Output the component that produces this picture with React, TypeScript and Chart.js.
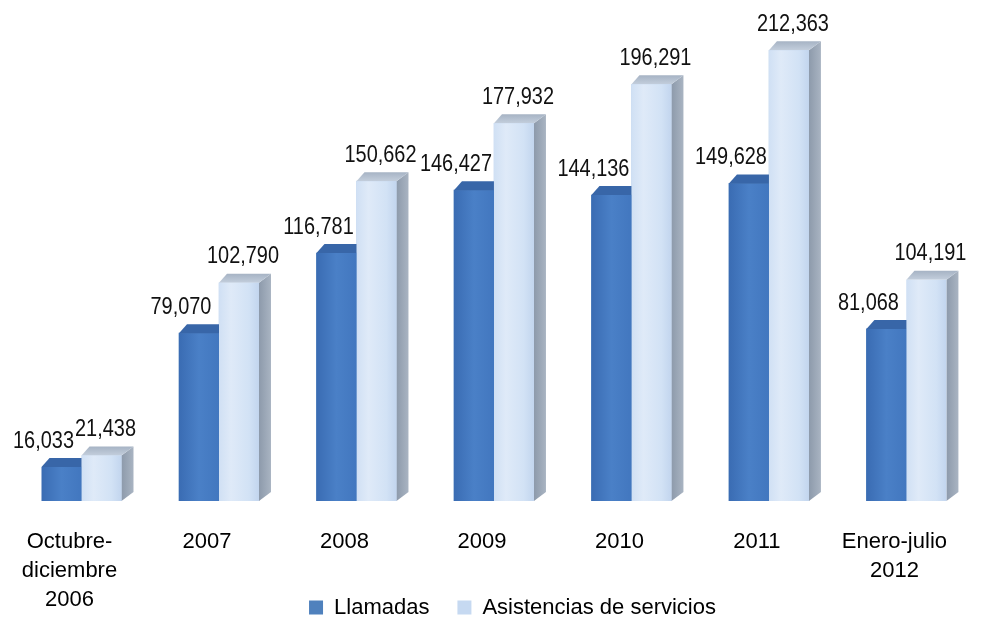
import React, { useEffect, useRef } from 'react';
import { Chart, registerables } from 'chart.js';

Chart.register(...registerables);

const categories: string[][] = [
  ['Octubre-', 'diciembre', '2006'],
  ['2007'],
  ['2008'],
  ['2009'],
  ['2010'],
  ['2011'],
  ['Enero-julio', '2012'],
];
const llamadas = [16033, 79070, 116781, 146427, 144136, 149628, 81068];
const asistencias = [21438, 102790, 150662, 177932, 196291, 212363, 104191];
const seriesNames = ['Llamadas', 'Asistencias de servicios'];
const legendColors = ['#4f81bd', '#c6d9f1'];

function pickFont(): { family: string; size: number; narrow: boolean } {
  const c = document.createElement('canvas').getContext('2d');
  const sample = 'Asistencias de servicios 0123456789';
  if (c) {
    c.font = '26px monospace';
    const w1 = c.measureText(sample).width;
    c.font = '26px "Liberation Sans Narrow", monospace';
    const w2 = c.measureText(sample).width;
    if (Math.abs(w1 - w2) > 1) return { family: '"Liberation Sans Narrow", "Arial Narrow", sans-serif', size: 26, narrow: true };
    c.font = '26px "Arial Narrow", monospace';
    const w3 = c.measureText(sample).width;
    if (Math.abs(w1 - w3) > 1) return { family: '"Arial Narrow", sans-serif', size: 26, narrow: true };
  }
  return { family: '"Liberation Sans", Arial, sans-serif', size: 22, narrow: false };
}

function poly(ctx: CanvasRenderingContext2D, pts: number[][], fill: string | CanvasGradient) {
  ctx.beginPath();
  ctx.moveTo(pts[0][0], pts[0][1]);
  for (let i = 1; i < pts.length; i++) ctx.lineTo(pts[i][0], pts[i][1]);
  ctx.closePath();
  ctx.fillStyle = fill;
  ctx.fill();
}

const LEGEND_TOP = 568.5;

const legendMover = {
  id: 'legendMover',
  afterLayout(chart: any) {
    const lg = chart.legend;
    if (!lg) return;
    const h = lg.bottom - lg.top;
    lg.top = LEGEND_TOP;
    lg.bottom = LEGEND_TOP + h;
  },
};

const makeBars3d = (font: { family: string; size: number; narrow: boolean }) => ({
  id: 'bars3d',
  afterDatasetsDraw(chart: any) {
    const ctx: CanvasRenderingContext2D = chart.ctx;
    const m0 = chart.getDatasetMeta(0);
    const m1 = chart.getDatasetMeta(1);
    const dxl = 8, dxr = 12, dy = 9;
    ctx.save();
    m0.data.forEach((d: any, i: number) => {
      const l: any = m1.data[i];
      const dp = d.getProps(['x', 'y', 'base', 'width'], true);
      const lp = l.getProps(['x', 'y', 'base', 'width'], true);
      const x0 = dp.x - dp.width / 2;
      const x1 = dp.x + dp.width / 2;
      const lx1 = lp.x - lp.width / 2;
      const x2 = lp.x + lp.width / 2;
      const base = dp.base;

      // light side face
      const sg = ctx.createLinearGradient(x2, 0, x2 + dxr, 0);
      sg.addColorStop(0, '#8d9aab');
      sg.addColorStop(1, '#a9b4c2');
      poly(ctx, [[x2, lp.y], [x2 + dxr, lp.y - dy], [x2 + dxr, base - dy], [x2, base]], sg);
      // light top face
      const tg = ctx.createLinearGradient(0, lp.y - dy, 0, lp.y);
      tg.addColorStop(0, '#a6b3c4');
      tg.addColorStop(1, '#c3cedc');
      poly(ctx, [[lx1, lp.y], [x2, lp.y], [x2 + dxr, lp.y - dy], [lx1 + dxl, lp.y - dy]], tg);
      // light front
      const lg = ctx.createLinearGradient(lx1, 0, x2, 0);
      lg.addColorStop(0, '#d0e0f4');
      lg.addColorStop(0.3, '#dfeaf8');
      lg.addColorStop(0.75, '#d2e2f5');
      lg.addColorStop(1, '#c2d5ee');
      poly(ctx, [[lx1, lp.y], [x2, lp.y], [x2, base], [lx1, base]], lg);
      // dark front
      const dg = ctx.createLinearGradient(x0, 0, x1, 0);
      dg.addColorStop(0, '#3a6cb3');
      dg.addColorStop(0.5, '#4a80c7');
      dg.addColorStop(1, '#4277bf');
      poly(ctx, [[x0, dp.y], [x1, dp.y], [x1, base], [x0, base]], dg);
      // dark top face (hidden to the right behind the light bar)
      poly(ctx, [[x0, dp.y], [x1, dp.y], [x1, dp.y - dy], [x0 + dxl, dp.y - dy]], '#3866a8');

      // value labels (condensed look, like Arial Narrow)
      const sx = font.narrow ? 1 : 0.83;
      const size = font.narrow ? 24 : 24;
      ctx.fillStyle = '#111111';
      ctx.font = `${size}px ${font.family}`;
      ctx.textAlign = 'center';
      ctx.textBaseline = 'middle';
      const put = (txt: string, x: number, y: number) => {
        ctx.save();
        ctx.translate(x, y);
        ctx.scale(sx, 1);
        ctx.fillText(txt, 0, 0);
        ctx.restore();
      };
      put(llamadas[i].toLocaleString('en-US'), dp.x - 18, dp.y - 26);
      put(asistencias[i].toLocaleString('en-US'), lp.x + 4, lp.y - 26);
    });
    ctx.restore();
  },
});

export default function App() {
  const ref = useRef<HTMLCanvasElement>(null);
  useEffect(() => {
    if (!ref.current) return;
    const font = pickFont();
    const chart = new Chart(ref.current, {
      type: 'bar',
      data: {
        labels: categories as any,
        datasets: [
          { label: seriesNames[0], data: llamadas, backgroundColor: legendColors[0], borderWidth: 0, barThickness: 40 },
          { label: seriesNames[1], data: asistencias, backgroundColor: legendColors[1], borderWidth: 0, barThickness: 40 },
        ],
      },
      options: {
        responsive: false,
        animation: false,
        layout: { padding: { left: 40, right: 0, top: 34, bottom: -64 } },
        scales: {
          x: {
            offset: false,
            grid: { display: false, drawTicks: false },
            border: { display: false },
            ticks: {
              autoSkip: false,
              maxRotation: 0,
              minRotation: 0,
              padding: 26,
              labelOffset: -12,
              color: '#000000',
              font: { family: font.family, size: font.size, lineHeight: '29px' as any },
            },
            afterFit: (s: any) => { s.height = 122; },
          },
          y: {
            min: 0,
            max: 220000,
            display: true,
            grid: { display: false },
            border: { display: false },
            ticks: { display: false },
            afterFit: (s: any) => { s.width = 41.5; },
          },
          y2: {
            type: 'linear',
            position: 'right',
            display: true,
            grid: { display: false },
            border: { display: false },
            ticks: { display: false },
            afterFit: (s: any) => { s.width = 64.7; },
          },
        },
        plugins: {
          legend: {
            position: 'bottom',
            labels: {
              boxWidth: 14,
              boxHeight: 14,
              padding: 28,
              color: '#000000',
              font: { family: font.family, size: font.size },
            },
          },
          tooltip: { enabled: false },
        },
      } as any,
      plugins: [legendMover, makeBars3d(font)],
    });
    return () => chart.destroy();
  }, []);
  return (
    <div style={{ position: 'fixed', left: 0, top: 0, width: 985, height: 619, background: '#ffffff' }}>
      <canvas ref={ref} width={985} height={619} style={{ display: 'block' }} />
    </div>
  );
}
